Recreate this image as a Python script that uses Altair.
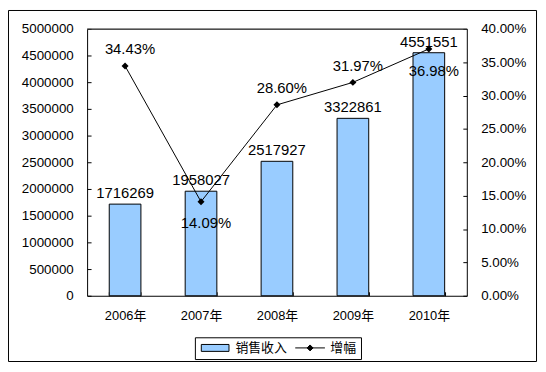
import altair as alt
import pandas as pd

years = ["2006年", "2007年", "2008年", "2009年", "2010年"]
sales = [1716269, 1958027, 2517927, 3322861, 4551551]
growth = [0.3443, 0.1409, 0.2860, 0.3197, 0.3698]
above_years = ["2006年", "2008年", "2009年"]
below_years = ["2007年", "2010年"]
series = ["销售收入", "增幅"]
sales_ticks = [0, 500000, 1000000, 1500000, 2000000, 2500000, 3000000,
               3500000, 4000000, 4500000, 5000000]
growth_ticks = [0, 0.05, 0.10, 0.15, 0.20, 0.25, 0.30, 0.35, 0.40]

df = pd.DataFrame({"year": years, "sales": sales, "growth": growth})
df_one = pd.DataFrame({"k": [0]})
df_leg = pd.DataFrame({"series": series})

NUM_FONT = "Liberation Sans"
CJK_FONT = "Liberation Sans, Noto Sans CJK SC"

x = alt.X(
    "year:N", sort=years,
    scale=alt.Scale(paddingInner=0.583, paddingOuter=0.2915),
    axis=alt.Axis(title=None, labelAngle=0, tickBand="extent", labelPadding=14,
                  labelFont=CJK_FONT, labelFontSize=13),
)
y_sales = alt.Y(
    "sales:Q",
    scale=alt.Scale(domain=[0, 5000000], nice=False),
    axis=alt.Axis(title=None, values=sales_ticks, format="d", labelPadding=14),
)
y_growth = alt.Y(
    "growth:Q",
    scale=alt.Scale(domain=[0, 0.4], nice=False),
    axis=alt.Axis(title=None, orient="right", values=growth_ticks, format=".2%",
                  labelPadding=14),
)

base = alt.Chart(df)

border = alt.Chart(df_one).mark_rect(filled=False, color="black", strokeWidth=1).encode(
    x=alt.value(-79.5), x2=alt.value(454.5), y=alt.value(-18.5), y2=alt.value(336.5)
)
top_rule = alt.Chart(df_one).mark_rule(color="#808080", strokeWidth=1).encode(
    x=alt.value(0), x2=alt.value(384), y=alt.value(0)
)

bars = base.mark_bar(color="#99CCFF", stroke="black", strokeWidth=1).encode(x=x, y=y_sales)
bar_text = base.mark_text(font=NUM_FONT, fontSize=15, color="black", baseline="alphabetic",
                          dy=-6).encode(
    x=x, y=y_sales, text=alt.Text("sales:Q", format="d")
)
left = alt.layer(border, bars, bar_text, top_rule)

line = base.mark_line(color="black", strokeWidth=1).encode(x=x, y=y_growth)
points = base.mark_point(shape="diamond", filled=True, color="black", size=50,
                         opacity=1).encode(x=x, y=y_growth)
pct_above = base.transform_filter(
    alt.FieldOneOfPredicate(field="year", oneOf=above_years)
).mark_text(font=NUM_FONT, fontSize=15, color="black", baseline="alphabetic",
            dy=-12, dx=5).encode(x=x, y=y_growth, text=alt.Text("growth:Q", format=".2%"))
pct_below = base.transform_filter(
    alt.FieldOneOfPredicate(field="year", oneOf=below_years)
).mark_text(font=NUM_FONT, fontSize=15, color="black", baseline="alphabetic",
            dy=27, dx=5).encode(x=x, y=y_growth, text=alt.Text("growth:Q", format=".2%"))

rect_path = "M-2.8,-0.7H2.8V0.7H-2.8Z"
line_path = "M-3,0H3M0,-0.6L0.6,0L0,0.6L-0.6,0Z"
leg = alt.Legend(title=None, orient="none", legendX=109, legendY=312,
                 direction="horizontal")
legend_layer = alt.Chart(df_leg).transform_filter("false").mark_point(
    filled=True, size=100, opacity=1, strokeWidth=1
).encode(
    fill=alt.Fill("series:N", sort=series,
                  scale=alt.Scale(domain=series, range=["#99CCFF", "black"]), legend=leg),
    stroke=alt.Stroke("series:N", sort=series,
                      scale=alt.Scale(domain=series, range=["black", "black"]), legend=leg),
    shape=alt.Shape("series:N", sort=series,
                    scale=alt.Scale(domain=series, range=[rect_path, line_path]), legend=leg),
)

right = alt.layer(line, points, pct_above, pct_below, legend_layer)

chart = alt.layer(left, right).resolve_scale(y="independent").properties(
    width=384, height=270,
    padding={"left": 80, "top": 19, "right": 72, "bottom": 67},
    autosize=alt.AutoSizeParams(type="none"),
).configure_view(
    stroke="black", strokeWidth=1
).configure_axis(
    labelFont=NUM_FONT, labelFontSize=13.5, labelColor="black",
    tickColor="black", tickSize=4, tickWidth=1, domain=False, grid=False, offset=-4,
).configure_legend(
    padding=4, strokeColor="black", fillColor="white",
    labelFont="Noto Sans CJK SC", labelFontSize=13, labelColor="black",
    symbolSize=100, symbolStrokeWidth=1, symbolOffset=10, labelOffset=14,
    columnPadding=5,
)

chart.save("out.html", embed_options={"renderer": "svg", "actions": False})
